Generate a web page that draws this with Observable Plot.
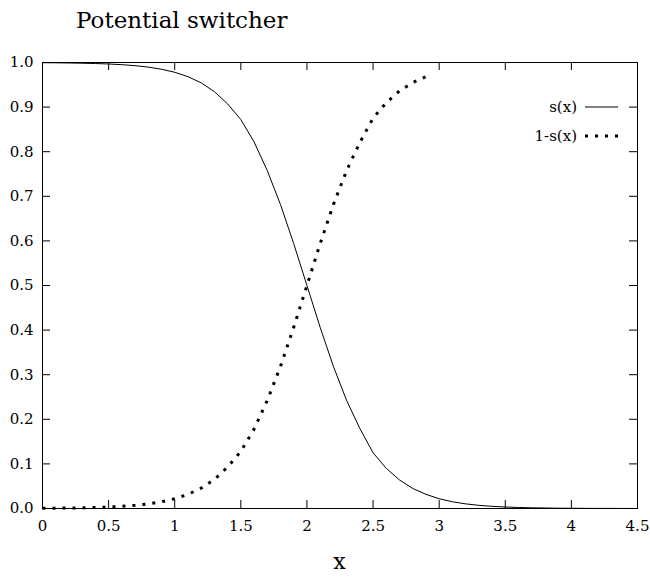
<!DOCTYPE html>
<html>
<head>
<meta charset="utf-8">
<script src="https://cdn.jsdelivr.net/npm/d3@7"></script>
<script src="https://cdn.jsdelivr.net/npm/@observablehq/plot@0.6"></script>
<style>
  html, body { margin: 0; padding: 0; background: #fff; }
  #chart { position: relative; width: 650px; height: 577px; }
  svg { font-family: "DejaVu Serif", serif; }
</style>
</head>
<body>
<div id="chart"></div>
<script>
// ---- data ----
const xs = [0.0,0.1,0.2,0.3,0.4,0.5,0.6,0.7,0.8,0.9,1.0,1.1,1.2,1.3,1.4,1.5,1.6,1.7,1.8,1.9,2.0,2.1,2.2,2.3,2.4,2.5,2.6,2.7,2.8,2.9,3.0,3.1,3.2,3.3,3.4,3.5,3.6,3.7,3.8,3.9,4.0,4.1,4.2,4.3,4.4,4.5];
const sValues = [0.9995,0.9993,0.9989,0.9984,0.9977,0.9967,0.9951,0.9929,0.9896,0.9849,0.9781,0.9683,0.9544,0.9347,0.9072,0.8720,0.8220,0.7577,0.6813,0.5938,0.5000,0.4062,0.3187,0.2423,0.1795,0.1250,0.0900,0.0640,0.0450,0.0317,0.0219,0.0151,0.0104,0.0071,0.0049,0.0033,0.0023,0.0016,0.0011,0.0007,0.0005,0.0003,0.0002,0.0002,0.0001,0.0001];
const dottedEnd = 2.9; // the dotted curve stops here in the reference
const xTicks = [0,0.5,1,1.5,2,2.5,3,3.5,4,4.5];
const xTickLabels = ["0","0.5","1","1.5","2","2.5","3","3.5","4","4.5"];
const yTicks = [0,0.1,0.2,0.3,0.4,0.5,0.6,0.7,0.8,0.9,1.0];
const yTickLabels = ["0.0","0.1","0.2","0.3","0.4","0.5","0.6","0.7","0.8","0.9","1.0"];
const seriesNames = ["s(x)", "1-s(x)"];
const titleText = "Potential switcher";
const xLabel = "x";

const sData = xs.map((x, i) => ({x, y: sValues[i]}));
const oneMinus = xs.map((x, i) => ({x, y: 1 - sValues[i]})).filter(d => d.x <= dottedEnd + 1e-9);

const W = 650, H = 577;
const mL = 42, mR = 13, mT = 62, mB = 69;
const plotW = W - mL - mR, plotH = H - mT - mB;
const tick = 8;

const chart = Plot.plot({
  width: W, height: H,
  marginLeft: mL, marginRight: mR, marginTop: mT, marginBottom: mB,
  style: {fontFamily: "DejaVu Serif, serif", fontSize: "15px", color: "#000", background: "#fff"},
  x: {domain: [0, 4.5]},
  y: {domain: [0, 1]},
  marks: [
    Plot.frame({stroke: "#000", strokeWidth: 1}),
    // inward ticks on all four sides
    Plot.tickX(xTicks, {x: d => d, insetTop: plotH - tick, stroke: "#000"}),
    Plot.tickX(xTicks, {x: d => d, insetBottom: plotH - tick, stroke: "#000"}),
    Plot.tickY(yTicks, {y: d => d, insetRight: plotW - tick, stroke: "#000"}),
    Plot.tickY(yTicks, {y: d => d, insetLeft: plotW - tick, stroke: "#000"}),
    Plot.axisX({ticks: xTicks, tickSize: 0, tickPadding: 12, tickFormat: (d) => xTickLabels[xTicks.indexOf(d)], fontSize: 15, label: null}),
    Plot.axisY({ticks: yTicks, tickSize: 0, tickPadding: 9, tickFormat: (d) => yTickLabels[yTicks.findIndex(t => Math.abs(t - d) < 1e-9)], fontSize: 15, label: null}),
    Plot.line(sData, {x: "x", y: "y", stroke: "#000", strokeWidth: 1}),
    Plot.line(oneMinus, {x: "x", y: "y", stroke: "#000", strokeWidth: 3, strokeDasharray: "3,7", strokeLinecap: "butt"})
  ]
});
document.getElementById("chart").appendChild(chart);

const svg = d3.select(chart);
// title and x label
svg.append("text").attr("x", 76).attr("y", 28).attr("text-anchor", "start").attr("font-size", 23).attr("fill", "#000").attr("font-family", "DejaVu Serif, serif").text(titleText);
svg.append("text").attr("x", mL + plotW / 2).attr("y", 569).attr("text-anchor", "middle").attr("font-size", 22).attr("fill", "#000").attr("font-family", "DejaVu Serif, serif").text(xLabel);

// legend (top-right inside the frame)
const lg = svg.append("g").attr("font-family", "DejaVu Serif, serif").attr("font-size", 15);
const legendX = 577; // text right edge
const legendY = [107, 136];
seriesNames.forEach((name, i) => {
  lg.append("text").attr("x", legendX).attr("y", legendY[i]).attr("dy", "0.32em").attr("text-anchor", "end").attr("fill", "#000").text(name);
  lg.append("line").attr("x1", legendX + 8).attr("x2", legendX + 41).attr("y1", legendY[i]).attr("y2", legendY[i])
    .attr("stroke", "#000")
    .attr("stroke-width", i === 0 ? 1 : 3)
    .attr("stroke-dasharray", i === 0 ? null : "3,7");
});
</script>
</body>
</html>
